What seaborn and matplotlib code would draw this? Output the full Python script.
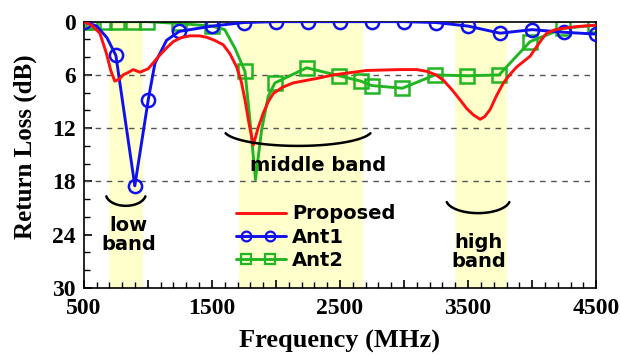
import numpy as np
import pandas as pd
import matplotlib
matplotlib.use("Agg")
import matplotlib.pyplot as plt
from matplotlib.lines import Line2D
from matplotlib.legend_handler import HandlerLine2D
from matplotlib.ticker import FixedLocator, MultipleLocator
import seaborn as sns

# ---------------- data ----------------
proposed_freq = [500, 560, 625, 677, 710, 742, 775, 807, 850, 885, 938, 1003, 1050, 1094, 1150,
                 1198, 1260, 1328, 1400, 1458, 1520, 1588, 1640, 1693, 1730, 1758, 1790, 1823,
                 1860, 1901, 1940, 1979, 2050, 2135, 2318, 2448, 2708, 2969, 3100, 3177, 3250,
                 3307, 3370, 3437, 3490, 3541, 3594, 3630, 3672, 3720, 3776, 3830, 3880, 3984,
                 4036, 4080, 4114, 4180, 4245, 4350, 4492]
proposed_rl = [0, 0.4, 1.3, 3.6, 5.5, 6.7, 6.5, 6.0, 5.7, 5.4, 5.7, 5.3, 4.5, 3.75, 2.9,
               2.25, 1.8, 1.6, 1.6, 1.75, 2.1, 2.6, 3.6, 5.1, 6.8, 8.8, 11.5, 13.9,
               12.0, 10.3, 9.0, 8.1, 7.4, 6.9, 6.4, 6.0, 5.5, 5.4, 5.4, 5.6, 6.0,
               6.6, 7.6, 8.8, 9.8, 10.5, 11.0, 10.7, 9.9, 8.4, 6.9, 5.9, 5.1, 3.9,
               2.8, 1.9, 1.3, 0.9, 0.75, 0.55, 0.4]

ant1_freq = [500, 600, 680, 750, 898, 1003, 1055, 1146, 1245, 1500, 1750, 2000, 2250, 2500,
             2750, 3000, 3250, 3500, 3750, 4000, 4250, 4500]
ant1_rl = [0, 0.5, 1.8, 3.8, 18.5, 8.8, 4.7, 2.1, 1.1, 0.5, 0.1, 0, 0, 0,
           0, 0, 0.1, 0.5, 1.3, 0.9, 1.2, 1.4]
ant1_marker_freq = [500, 750, 898, 1003, 1245, 1500, 1750, 2000, 2250, 2500, 2750, 3000,
                    3250, 3500, 3750, 4000, 4250, 4500]

ant2_freq = [500, 575, 660, 760, 880, 990, 1240, 1500, 1600, 1680, 1758, 1797, 1840, 1888,
             1940, 1992, 2240, 2494, 2661, 2747, 2987, 3242, 3490, 3742, 3984, 4245, 4492]
ant2_rl = [0, 0, 0, 0, 0, 0, 0.2, 0.5, 0.9, 3.0, 5.6, 11.1, 17.8, 12.2,
           8.4, 6.9, 5.2, 6.1, 6.7, 7.2, 7.5, 6.0, 6.1, 6.0, 2.25, 0.75, 0.4]
ant2_marker_freq = [500, 575, 660, 760, 880, 990, 1240, 1500, 1758, 1992, 2240, 2494, 2661,
                    2747, 2987, 3242, 3490, 3742, 3984, 4245, 4492]

bands = [(700, 960), (1710, 2680), (3400, 3800)]
band_labels = ["low\nband", "middle band", "high\nband"]
band_label_pos = [(850, 24.0), (2330, 16.2), (3580, 26.0)]
grid_levels = [6, 12, 18]

x_ticks = [500, 1000, 1500, 2000, 2500, 3000, 3500, 4000, 4500]
x_ticklabels = ["500", "", "1500", "", "2500", "", "3500", "", "4500"]
y_ticks = [0, 6, 12, 18, 24, 30]

series_names = ["Proposed", "Ant1", "Ant2"]
colors = {"Proposed": "#ff1010", "Ant1": "#1010ee", "Ant2": "#22b522"}


class LineInnerMarkers(HandlerLine2D):
    """Legend handle: full-length line with two markers set inside it."""

    def create_artists(self, legend, orig_handle, xdescent, ydescent, width, height,
                       fontsize, trans):
        yc = (height - ydescent) / 2
        line = Line2D([-xdescent, -xdescent + width], [yc, yc])
        self.update_prop(line, orig_handle, legend)
        line.set_marker("")
        mk = Line2D([-xdescent + 0.2 * width, -xdescent + 0.68 * width], [yc, yc])
        self.update_prop(mk, orig_handle, legend)
        mk.set_linestyle("none")
        line.set_transform(trans)
        mk.set_transform(trans)
        return [line, mk]


# ---------------- figure ----------------
sns.set_theme(style="white")
plt.rcParams["font.family"] = ["DejaVu Sans"]
plt.rcParams["text.color"] = "black"

fig = plt.figure(figsize=(6.21, 3.55), dpi=100)
ax = fig.add_axes([0.135, 0.189, 0.825, 0.75])

for lo, hi in bands:
    ax.axvspan(lo, hi, color="#ffffcc", zorder=0, lw=0)
for g in grid_levels:
    ax.axhline(g, color="#555555", ls=(0, (4, 4)), lw=1.0, zorder=1)

lw = 2.1
sns.lineplot(x=proposed_freq, y=proposed_rl, ax=ax, color=colors["Proposed"], lw=lw,
             zorder=4, sort=False)
sns.lineplot(x=ant1_freq, y=ant1_rl, ax=ax, color=colors["Ant1"], lw=lw, zorder=3, sort=False,
             marker="o", markersize=9.5, markerfacecolor="none",
             markeredgecolor=colors["Ant1"], markeredgewidth=1.8,
             markevery=list(np.isin(ant1_freq, ant1_marker_freq)))
sns.lineplot(x=ant2_freq, y=ant2_rl, ax=ax, color=colors["Ant2"], lw=lw, zorder=2, sort=False,
             marker="s", markersize=9.5, markerfacecolor="none",
             markeredgecolor=colors["Ant2"], markeredgewidth=1.8,
             markevery=list(np.isin(ant2_freq, ant2_marker_freq)))

ax.set_xlim(500, 4500)
ax.set_ylim(30, 0)

serif = ["Liberation Serif", "DejaVu Serif"]
ax.xaxis.set_major_locator(FixedLocator(x_ticks))
ax.set_xticklabels(x_ticklabels)
ax.xaxis.set_minor_locator(MultipleLocator(100))
ax.yaxis.set_major_locator(FixedLocator(y_ticks))
ax.set_yticklabels([str(v) for v in y_ticks])
ax.yaxis.set_minor_locator(MultipleLocator(2))
ax.tick_params(which="both", direction="in", left=True, bottom=True, top=False, right=False,
               color="black")
ax.tick_params(which="major", length=6, width=1.2)
ax.tick_params(which="minor", length=4, width=1.0)
ax.tick_params(axis="x", which="major", pad=7)
ax.tick_params(axis="y", which="major", pad=6)
for lab in ax.get_xticklabels() + ax.get_yticklabels():
    lab.set_family(serif)
    lab.set_fontweight("bold")
    lab.set_fontsize(17)
    lab.set_color("black")

ax.set_xlabel("Frequency (MHz)", family=serif, fontweight="bold", fontsize=19, color="black",
              labelpad=8)
ax.set_ylabel("Return Loss (dB)", family=serif, fontweight="bold", fontsize=18, color="black")
ax.yaxis.set_label_coords(-0.092, 0.53)

for sp in ax.spines.values():
    sp.set_visible(True)
    sp.set_color("black")
    sp.set_linewidth(1.2)

# band annotations
for (tx, ty), txt in zip(band_label_pos, band_labels):
    ax.text(tx, ty, txt, ha="center", va="center", fontsize=14, fontweight="bold",
            color="black", linespacing=1.0, zorder=6)
# bracket arcs: (center x, center y, width, height) – lower half of an ellipse on screen
arc_specs = [(828, 19.4, 312, 2.7), (2172, 12.2, 1156, 3.6), (3578, 20.0, 500, 3.15)]
t = np.linspace(np.deg2rad(12), np.deg2rad(168), 60)
for cx, cy, w, h in arc_specs:
    ax.plot(cx + 0.5 * w * np.cos(t), cy + 0.5 * h * np.sin(t), color="black", lw=1.8,
            zorder=6, solid_capstyle="round")

# legend
h_p = Line2D([], [], color=colors["Proposed"], lw=lw)
h_1 = Line2D([], [], color=colors["Ant1"], lw=lw, marker="o", markersize=7,
             markerfacecolor="none", markeredgewidth=1.6)
h_2 = Line2D([], [], color=colors["Ant2"], lw=lw, marker="s", markersize=7,
             markerfacecolor="none", markeredgewidth=1.6)
hmap = {h_1: LineInnerMarkers(), h_2: LineInnerMarkers()}
leg = ax.legend([h_p, h_1, h_2], series_names, handler_map=hmap,
                loc="upper left", bbox_to_anchor=(0.27, 0.365),
                frameon=False, handlelength=2.6, handletextpad=0.3,
                labelspacing=0.22, borderpad=0.2, labelcolor="black",
                prop={"weight": "bold", "size": 14})
leg.set_zorder(7)

fig.savefig("out.png", dpi=100)
